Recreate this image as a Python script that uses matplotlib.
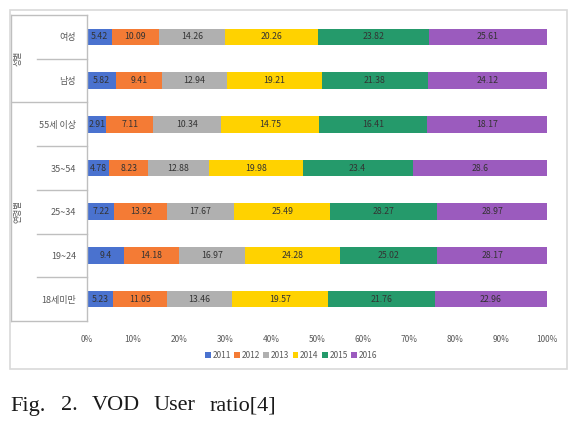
import numpy as np
import matplotlib
matplotlib.use("Agg")
import matplotlib.pyplot as plt
import matplotlib.transforms as mtransforms
from matplotlib.patches import Rectangle

plt.rcParams['font.family'] = ['Noto Sans CJK KR', 'DejaVu Sans']

# rows top -> bottom
categories = ["여성", "남성", "55세 이상", "35~54", "25~34", "19~24", "18세미만"]
years = ["2011", "2012", "2013", "2014", "2015", "2016"]
v2011 = [5.42, 5.82, 2.91, 4.78, 7.22, 9.4, 5.23]
v2012 = [10.09, 9.41, 7.11, 8.23, 13.92, 14.18, 11.05]
v2013 = [14.26, 12.94, 10.34, 12.88, 17.67, 16.97, 13.46]
v2014 = [20.26, 19.21, 14.75, 19.98, 25.49, 24.28, 19.57]
v2015 = [23.82, 21.38, 16.41, 23.4, 28.27, 25.02, 21.76]
v2016 = [25.61, 24.12, 18.17, 28.6, 28.97, 28.17, 22.96]
colors = ["#4a72cf", "#f47b35", "#b0b0b0", "#ffd200", "#259a6b", "#9b5bbe"]

series = np.array([v2011, v2012, v2013, v2014, v2015, v2016])
pct = series / series.sum(axis=0) * 100

fig = plt.figure(figsize=(5.78, 4.24), dpi=100)
W, H = 578, 424

# outer light frame
fig.patches.append(Rectangle((10 / W, 1 - 369 / H), 557 / W, 359 / H,
                             transform=fig.transFigure, fill=False,
                             edgecolor="#d9d9d9", linewidth=1.2))

ax = fig.add_axes([87 / W, 1 - 321 / H, 460 / W, 306 / H])
y = np.arange(len(categories))
left = np.zeros(len(categories))
for i, yr in enumerate(years):
    ax.barh(y, pct[i], left=left, height=0.38, color=colors[i], label=yr)
    for j in range(len(categories)):
        ax.text(left[j] + pct[i][j] / 2, y[j], f"{series[i][j]:g}",
                ha="center", va="center", fontsize=6.3, color="#333333")
    left += pct[i]

ax.set_xlim(0, 100)
ax.set_ylim(6.5, -0.5)
ax.set_xticks(np.arange(0, 101, 10))
ax.set_xticklabels([f"{t}%" for t in range(0, 101, 10)], fontsize=6, color="#595959")
ax.set_yticks(y)
ax.set_yticklabels(categories, fontsize=6.5, color="#595959")
ax.tick_params(axis="both", length=0)
ax.tick_params(axis="y", pad=8)
ax.tick_params(axis="x", pad=10)
for s in ["top", "right", "bottom"]:
    ax.spines[s].set_visible(False)
ax.spines["left"].set_color("#bfbfbf")
ax.spines["left"].set_linewidth(1.0)

# category table lines on the left
tr = mtransforms.blended_transform_factory(ax.transAxes, ax.transData)
xo = (11 - 87) / 460
xi = (37 - 87) / 460
lc = "#bfbfbf"
for yy in [-0.5, 1.5, 6.5]:
    ax.plot([xo, 0], [yy, yy], color=lc, lw=1.0, transform=tr, clip_on=False)
for yy in [0.5, 2.5, 3.5, 4.5, 5.5]:
    ax.plot([xi, 0], [yy, yy], color=lc, lw=1.0, transform=tr, clip_on=False)
ax.plot([xo, xo], [-0.5, 6.5], color=lc, lw=1.0, transform=tr, clip_on=False)

ax.text((18 - 87) / 460, 0.5, "성별", rotation=90, ha="center", va="center",
        fontsize=6, color="#595959", transform=tr)
ax.text((18 - 87) / 460, 4.0, "연령별", rotation=90, ha="center", va="center",
        fontsize=6, color="#595959", transform=tr)

fig.legend(loc="center", bbox_to_anchor=(291 / W, 1 - 355 / H), ncol=6,
           frameon=False, fontsize=6, handlelength=0.7, handleheight=0.7,
           handletextpad=0.2, columnspacing=0.4, labelcolor="#595959")

# caption, justified words
for word, xpx in [("Fig.", 10), ("2.", 61), ("VOD", 92), ("User", 153), ("ratio[4]", 210)]:
    fig.text(xpx / W, 1 - 406 / H, word, ha="left", va="center",
             fontsize=16, family="Liberation Serif", color="#1a1a1a")

fig.savefig("out.png", dpi=100)
